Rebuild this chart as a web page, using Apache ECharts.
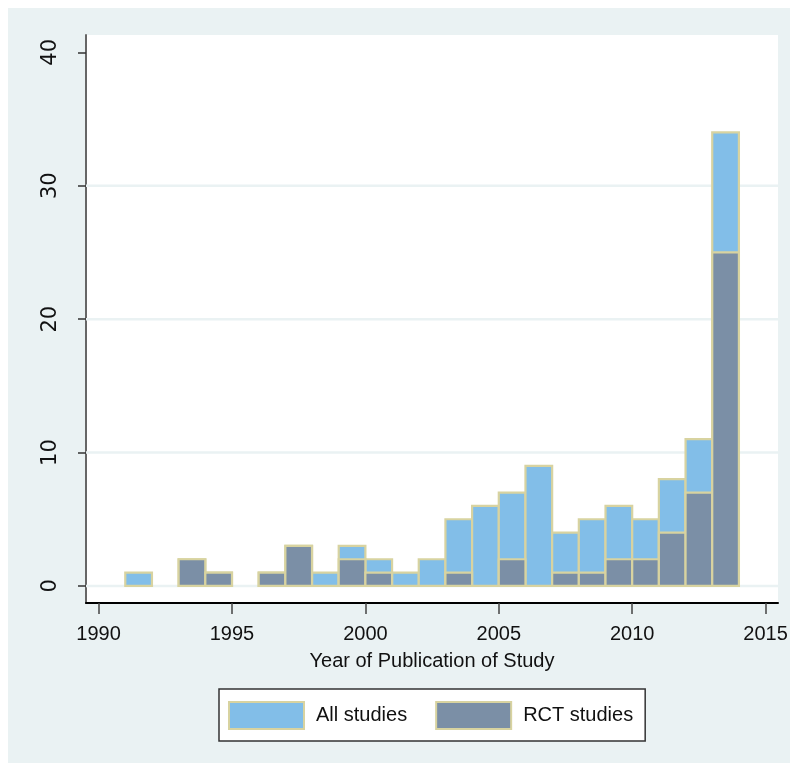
<!DOCTYPE html>
<html>
<head>
<meta charset="utf-8">
<script src="https://cdn.jsdelivr.net/npm/echarts@6/dist/echarts.min.js"></script>
<style>
html,body{margin:0;padding:0;background:#fff;}
#chart{width:792px;height:771px;}
</style>
</head>
<body>
<div id="chart"></div>
<script>
// Bin start years (each bin is one year wide)
const binStarts = [1991,1992,1993,1994,1995,1996,1997,1998,1999,2000,2001,2002,2003,2004,2005,2006,2007,2008,2009,2010,2011,2012,2013];
const allStudies = [1,0,2,1,0,1,3,1,3,2,1,2,5,6,7,9,4,5,6,5,8,11,34];
const rctStudies = [0,0,2,1,0,1,3,0,2,1,0,0,1,0,2,0,1,1,2,2,4,7,25];
const xTicks = [1990,1995,2000,2005,2010,2015];
const yTicks = [0,10,20,30,40];
const gridLineValues = [0,10,20,30];
const seriesNames = ['All studies','RCT studies'];

const X_MIN = 1989.528, X_MAX = 2015.465;
const BLUE = '#82BEE8';
const GRAY = '#7B8FA6';
const OUTLINE = '#D8D3A0';
const FONT = "'Liberation Sans',Arial,sans-serif";

function makeRender(fill){
  return function(params, api){
    const x0 = api.value(0);
    const h = api.value(1);
    if (!h) return null;
    const p0 = api.coord([x0, 0]);
    const p1 = api.coord([x0 + 1, h]);
    return {
      type:'rect',
      shape:{x:p0[0], y:p1[1], width:p1[0]-p0[0], height:p0[1]-p1[1]},
      style:{fill:fill, stroke:OUTLINE, lineWidth:2.2}
    };
  };
}

function renderGridLine(params, api){
  const v = api.value(0);
  const a = api.coord([X_MIN, v]);
  const b = api.coord([X_MAX, v]);
  return {type:'line', shape:{x1:a[0], y1:a[1], x2:b[0], y2:b[1]}, style:{stroke:'#EAF2F3', lineWidth:2.5}};
}

const chart = echarts.init(document.getElementById('chart'), null, {renderer:'canvas'});
chart.setOption({
  animation:false,
  backgroundColor:'#ffffff',
  graphic:[{type:'rect', z:-10, silent:true, shape:{x:8,y:8,width:782,height:755}, style:{fill:'#EAF2F3'}}],
  grid:{left:86,right:14,top:35,bottom:168,show:true,backgroundColor:'#ffffff',borderWidth:0},
  xAxis:{
    type:'value', min:X_MIN, max:X_MAX,
    name:'Year of Publication of Study', nameLocation:'middle', nameGap:48,
    nameTextStyle:{fontFamily:FONT,fontSize:20,color:'#111'},
    axisLine:{show:true,onZero:false,lineStyle:{color:'#000',width:2}},
    axisTick:{show:true,length:11,lineStyle:{color:'#444',width:1.5},customValues:xTicks},
    axisLabel:{show:true,margin:21,fontFamily:FONT,fontSize:20,color:'#111',customValues:xTicks,formatter:v=>String(v)},
    splitLine:{show:false}
  },
  yAxis:{
    type:'value', min:-1.28, max:41.3,
    axisLine:{show:true,onZero:false,lineStyle:{color:'#666',width:2}},
    axisTick:{show:true,length:8,lineStyle:{color:'#333',width:1.5},customValues:yTicks},
    axisLabel:{show:true,rotate:90,margin:25,fontFamily:"'DejaVu Sans',sans-serif",fontSize:21,color:'#111',customValues:yTicks,formatter:v=>String(v)},
    splitLine:{show:false}
  },
  legend:{
    left:219, top:689,
    orient:'horizontal',
    padding:[12,12,11,9],
    backgroundColor:'#ffffff',
    borderColor:'#333', borderWidth:1.5, borderRadius:0,
    itemWidth:75, itemHeight:27, itemGap:28,
    icon:'rect',
    textStyle:{fontFamily:FONT,fontSize:20,color:'#111',padding:[0,0,0,7]},
    data:[
      {name:seriesNames[0], itemStyle:{color:BLUE,borderColor:OUTLINE,borderWidth:2}},
      {name:seriesNames[1], itemStyle:{color:GRAY,borderColor:OUTLINE,borderWidth:2}}
    ]
  },
  series:[
    {
      type:'custom', name:'grid', silent:true, z:1,
      renderItem:renderGridLine,
      data:gridLineValues.map(v=>[v])
    },
    {
      type:'custom', name:seriesNames[0], z:2,
      itemStyle:{color:BLUE},
      renderItem:makeRender(BLUE),
      data:binStarts.map((y,i)=>[y, allStudies[i]])
    },
    {
      type:'custom', name:seriesNames[1], z:3,
      itemStyle:{color:GRAY},
      renderItem:makeRender(GRAY),
      data:binStarts.map((y,i)=>[y, rctStudies[i]])
    }
  ]
});
</script>
</body>
</html>
